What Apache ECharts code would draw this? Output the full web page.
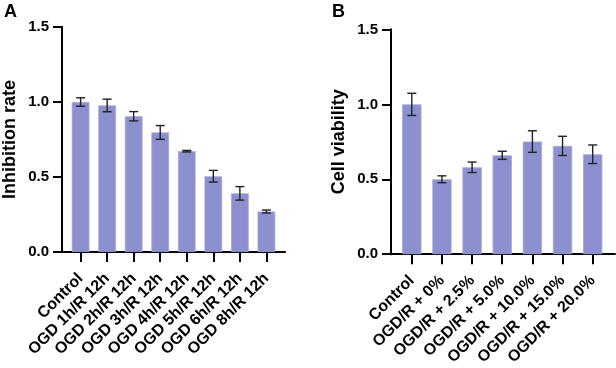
<!DOCTYPE html>
<html>
<head>
<meta charset="utf-8">
<script src="https://cdn.jsdelivr.net/npm/echarts@6/dist/echarts.min.js"></script>
<style>html,body{margin:0;padding:0;background:#fff}#c{width:616px;height:368px}</style>
</head>
<body>
<div id="c"></div>
<script>
const categoriesA = ['Control','OGD 1h/R 12h','OGD 2h/R 12h','OGD 3h/R 12h','OGD 4h/R 12h','OGD 5h/R 12h','OGD 6h/R 12h','OGD 8h/R 12h'];
const valuesA = [1.0, 0.977, 0.905, 0.797, 0.672, 0.505, 0.391, 0.270];
const errorsA = [0.028, 0.042, 0.031, 0.046, 0.005, 0.039, 0.045, 0.010];
const categoriesB = ['Control','OGD/R + 0%','OGD/R + 2.5%','OGD/R + 5.0%','OGD/R + 10.0%','OGD/R + 15.0%','OGD/R + 20.0%'];
const valuesB = [1.0, 0.500, 0.580, 0.660, 0.752, 0.723, 0.667];
const errorsB = [0.074, 0.023, 0.035, 0.027, 0.072, 0.064, 0.062];
const yTicks = [0, 0.5, 1.0, 1.5];

const FONT = '"Liberation Sans", Arial, sans-serif';
const BAR = '#8c90cf';

function errSeries(vals, errs, axisIdx) {
  return {
    type: 'custom', xAxisIndex: axisIdx, yAxisIndex: axisIdx, z: 5,
    data: vals.map((v, i) => [i, v - errs[i], v + errs[i]]),
    renderItem: function (params, api) {
      const lo = api.coord([api.value(0), api.value(1)]);
      const hi = api.coord([api.value(0), api.value(2)]);
      const w = 4.5;
      const st = { stroke: '#222', lineWidth: 1.4 };
      return { type: 'group', children: [
        { type: 'line', shape: { x1: lo[0], y1: lo[1], x2: hi[0], y2: hi[1] }, style: st },
        { type: 'line', shape: { x1: lo[0]-w, y1: lo[1], x2: lo[0]+w, y2: lo[1] }, style: st },
        { type: 'line', shape: { x1: hi[0]-w, y1: hi[1], x2: hi[0]+w, y2: hi[1] }, style: st }
      ]};
    }
  };
}

function xAxisCfg(idx, cats, min, max) {
  const idxs = cats.map((c, i) => i);
  return {
    type: 'value', gridIndex: idx, min: min, max: max,
    splitLine: { show: false },
    axisLine: { show: true, onZero: false, lineStyle: { color: '#000', width: 2 } },
    axisTick: { show: true, customValues: idxs, length: 10, lineStyle: { color: '#000', width: 2 } },
    axisLabel: { customValues: idxs, rotate: 45, margin: 24, interval: 0,
      formatter: v => cats[Math.round(v)] || '',
      fontFamily: FONT, fontWeight: 'bold', fontSize: 16, color: '#000' }
  };
}
function yAxisCfg(idx, name) {
  return {
    type: 'value', gridIndex: idx, min: 0, max: 1.5, interval: 0.5,
    name: name, nameLocation: 'middle', nameGap: 43,
    nameTextStyle: { fontFamily: FONT, fontWeight: 'bold', fontSize: 18, color: '#000' },
    splitLine: { show: false },
    axisLine: { show: true, onZero: false, lineStyle: { color: '#000', width: 2 } },
    axisTick: { show: true, length: 9, lineStyle: { color: '#000', width: 2 } },
    axisLabel: { margin: 13, fontFamily: FONT, fontWeight: 'bold', fontSize: 15, color: '#000',
      formatter: v => v.toFixed(1) }
  };
}
function yTickAxisCfg(idx) {
  return {
    type: 'value', gridIndex: idx, min: 0, max: 1.5, interval: 0.5, position: 'left', offset: 0,
    splitLine: { show: false },
    axisLine: { show: true, onZero: false, lineStyle: { color: '#000', width: 2 } },
    axisTick: { show: true, length: 9, lineStyle: { color: '#000', width: 2 } },
    axisLabel: { show: false }
  };
}

const chart = echarts.init(document.getElementById('c'), null, { renderer: 'canvas' });
chart.setOption({
  animation: false,
  backgroundColor: '#fff',
  title: [
    { text: 'A', left: 4, top: 3, padding: 0, textStyle: { fontFamily: FONT, fontWeight: 'bold', fontSize: 18, color: '#000' } },
    { text: 'B', left: 332, top: 3, padding: 0, textStyle: { fontFamily: FONT, fontWeight: 'bold', fontSize: 18, color: '#000' } }
  ],
  grid: [
    { left: 62, top: 27, width: 223, height: 225 },
    { left: 391, top: 29.5, width: 224, height: 226 }
  ],
  xAxis: [ xAxisCfg(0, categoriesA, -0.7, 7.7), xAxisCfg(1, categoriesB, -0.69, 6.74) ],
  yAxis: [ yAxisCfg(0, 'Inhibition rate'), yAxisCfg(1, 'Cell viability'), yTickAxisCfg(0), yTickAxisCfg(1) ],
  series: [
    { type: 'bar', xAxisIndex: 0, yAxisIndex: 0, barWidth: 17.7,
      itemStyle: { color: BAR, borderColor: '#a4a7db', borderWidth: 0.8 },
      data: valuesA.map((v, i) => [i, v]) },
    errSeries(valuesA, errorsA, 0),
    { type: 'bar', xAxisIndex: 1, yAxisIndex: 1, barWidth: 19.3,
      itemStyle: { color: BAR, borderColor: '#a4a7db', borderWidth: 0.8 },
      data: valuesB.map((v, i) => [i, v]) },
    errSeries(valuesB, errorsB, 1)
  ]
});
</script>
</body>
</html>
